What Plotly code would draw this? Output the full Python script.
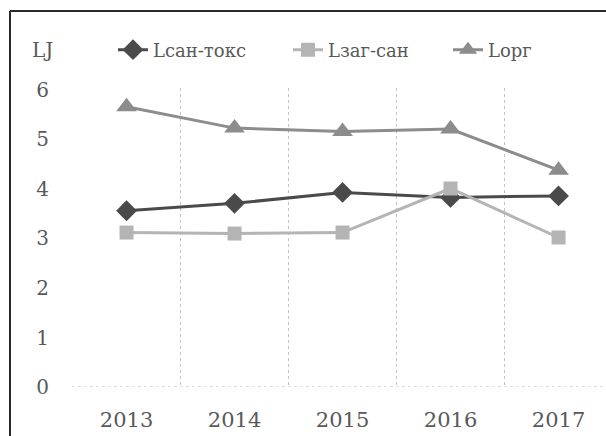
import plotly.graph_objects as go

years = ["2013", "2014", "2015", "2016", "2017"]
l_san_toks = [3.56, 3.71, 3.93, 3.83, 3.86]
l_zag_san = [3.12, 3.10, 3.12, 4.01, 3.02]
l_org = [5.66, 5.23, 5.16, 5.21, 4.38]
y_ticks = [0, 1, 2, 3, 4, 5, 6]

W, H = 606, 436
ML, MR, MT, MB = 72, 0, 88, 49
PW = W - ML - MR
PH = H - MT - MB

FONT = "DejaVu Serif"
TXT = "#595959"

fig = go.Figure()
fig.add_trace(go.Scatter(
    x=years, y=l_san_toks, name="Lсан-токс", mode="lines+markers",
    line=dict(color="#4a4a4a", width=3), legend="legend",
    marker=dict(symbol="diamond", size=16, color="#4a4a4a")))
fig.add_trace(go.Scatter(
    x=years, y=l_zag_san, name="Lзаг-сан", mode="lines+markers",
    line=dict(color="#b4b4b4", width=3), legend="legend2",
    marker=dict(symbol="square", size=14, color="#b4b4b4")))
fig.add_trace(go.Scatter(
    x=years, y=l_org, name="Lорг", mode="lines+markers",
    line=dict(color="#8c8c8c", width=3), legend="legend3",
    marker=dict(symbol="triangle-up", size=18, color="#8c8c8c")))

x_left = (10 - ML) / PW
y_top = (H - MB - 11) / PH
fig.add_shape(type="line", xref="paper", yref="paper",
              x0=x_left, x1=1.0, y0=y_top, y1=y_top,
              line=dict(color="#2a2a2a", width=2), layer="below")
fig.add_shape(type="line", xref="paper", yref="paper",
              x0=x_left, x1=x_left, y0=-MB / PH, y1=y_top,
              line=dict(color="#2a2a2a", width=2), layer="below")
fig.add_shape(type="line", xref="paper", yref="y", x0=0, x1=1, y0=0, y1=0,
              line=dict(color="#c0c0c0", width=1, dash="dot"))

fig.add_annotation(text="LJ", xref="paper", yref="paper",
                   x=(42 - ML) / PW, y=(H - MB - 50) / PH,
                   xanchor="center", yanchor="middle", showarrow=False,
                   font=dict(family=FONT, size=20, color=TXT))

leg_y = (H - MB - 50) / PH


def leg(px):
    return dict(orientation="h", x=(px - ML) / PW, y=leg_y,
                xanchor="left", yanchor="middle",
                font=dict(family=FONT, size=18, color=TXT),
                bgcolor="rgba(0,0,0,0)")


fig.update_layout(
    width=W, height=H,
    margin=dict(l=ML, r=MR, t=MT, b=MB),
    paper_bgcolor="white", plot_bgcolor="white",
    font=dict(family=FONT, color=TXT),
    legend=leg(113), legend2=leg(288), legend3=leg(448),
    xaxis=dict(type="category", range=[-0.505, -0.505 + PW / 108.0],
               tickson="boundaries", showgrid=True, griddash="dot",
               gridcolor="#c0c0c0", gridwidth=1, showline=False,
               zeroline=False, ticks="", ticklabelstandoff=18,
               tickfont=dict(family=FONT, size=21, color=TXT)),
    yaxis=dict(range=[0, 6.04], tickvals=y_ticks, showgrid=False,
               zeroline=False, showline=False, ticks="",
               ticklabelstandoff=22,
               tickfont=dict(family=FONT, size=20, color=TXT)),
    showlegend=True,
)

fig.write_html("out.html")
